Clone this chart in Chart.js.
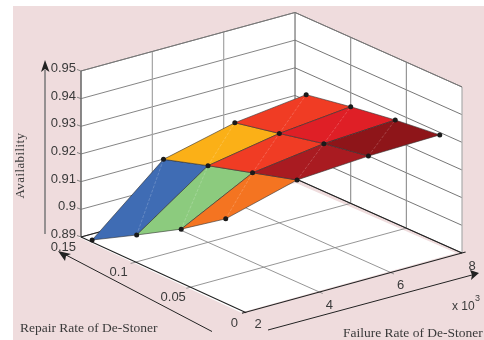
<!DOCTYPE html>
<html lang="en">
<head>
<meta charset="UTF-8">
<title>Availability surface</title>
<script src="https://cdn.jsdelivr.net/npm/chart.js"></script>
<style>
  html, body { margin: 0; padding: 0; background: #fff; }
  #panel { position: absolute; left: 13px; top: 6px; width: 471px; height: 334px; background: #efdcdd; }
  #chart { position: absolute; left: 0; top: 0; }
</style>
</head>
<body>
<div id="panel"></div>
<canvas id="chart" width="484" height="340"></canvas>
<script>
// values
const failureRates = [2, 4, 6, 8];
const repairRates = [0.14, 0.10, 0.06, 0.02];
const availabilityF2 = [0.8907, 0.8997, 0.9090, 0.9199];
const availabilityF4 = [0.9128, 0.9177, 0.9223, 0.9269];
const availabilityF6 = [0.9190, 0.9223, 0.9258, 0.9285];
const availabilityF8 = [0.9221, 0.9249, 0.9273, 0.9291];
const availability = [availabilityF2, availabilityF4, availabilityF6, availabilityF8];

const failureTicks = [2, 4, 6, 8];
const repairTicks = [0, 0.05, 0.1, 0.15];
const repairTickLabels = ['0', '0.05', '0.1', '0.15'];
const availabilityTicks = [0.89, 0.9, 0.91, 0.92, 0.93, 0.94, 0.95];
const availabilityTickLabels = ['0.89', '0.9', '0.91', '0.92', '0.93', '0.94', '0.95'];

// one row per failure step, one column per repair step
const patchColors = [
  ['#3f6cb4', '#8ccb7e', '#f47421'],
  ['#fbb017', '#f03c24', '#a91b21'],
  ['#f03c24', '#df1f26', '#8e1519']
];

// oblique view of the box
function project(f, r, z) {
  return {
    x: 248 + (f - 2) * 35.67 - r * 1113.3,
    y: 311.5 - (f - 2) * 9.75 - r * 496.7 - (z - 0.89) * 2767
  };
}

const fMin = 2, fMax = 8, rMin = 0, rMax = 0.15, zMin = 0.89, zMax = 0.95;
const datasets = [];

function line(points, color, width, dash) {
  datasets.push({ data: points, showLine: true, borderColor: color, borderWidth: width || 1,
    borderDash: dash || [], pointRadius: 0, fill: false });
}
function shape(points, color, edge, width) {
  datasets.push({ data: points.concat([points[0]]), showLine: true, backgroundColor: color,
    borderColor: edge || color, borderWidth: width || 0, pointRadius: 0, fill: 'shape' });
}
function shift(p, dx, dy) { return { x: p.x + dx, y: p.y + dy }; }

// walls and floor
shape([project(fMin, rMax, zMin), project(fMax, rMax, zMin), project(fMax, rMax, zMax), project(fMin, rMax, zMax)], '#fff');
shape([project(fMax, rMax, zMin), project(fMax, rMin, zMin), project(fMax, rMin, zMax), project(fMax, rMax, zMax)], '#fff');
// the white floor sits slightly off the black axis lines in the original
shape([
  shift(project(fMin, rMax, zMin), -3, 0),
  shift(project(fMin, rMin, zMin), -7, 1),
  shift(project(fMax, rMin, zMin), -6, 0),
  shift(project(fMax, rMax, zMin), 1, 4.5)
], '#fff');

// grid
availabilityTicks.forEach(z => {
  line([shift(project(fMin, rMax, z), -4, -1.5), project(fMin, rMax, z), project(fMax, rMax, z)], '#777', 0.9);
  line([project(fMax, rMax, z), project(fMax, rMin, z)], '#666', 0.9);
});
failureTicks.slice(1, 3).forEach(f => {
  line([project(f, rMax, zMin), project(f, rMax, zMax)], '#a4a4a4', 1.2);
  line([project(f, rMin - 0.003, zMin), project(f, rMax, zMin)], '#8a8a8a', 0.9);
});
repairTicks.slice(1, 3).forEach(r => {
  line([project(fMax, r, zMin), project(fMax, r, zMax)], '#8c8c8c', 1.1);
  line([project(fMin - 0.17, r, zMin), project(fMax, r, zMin)], '#8a8a8a', 0.9);
});
line([project(fMin, rMax, zMin), project(fMin, rMax, zMax)], '#6e6e6e', 1.6);
line([project(fMax, rMax, zMin), project(fMax, rMax, zMax)], '#707070', 1.2);
line([project(fMax, rMin, zMin), project(fMax, rMin, zMax)], '#b0b0b0', 1.3);
line([project(fMin, rMax, zMax), project(fMax, rMax, zMax), project(fMax, rMin, zMax)], '#777', 1);

// box bottom edges
line([project(fMin, rMax, zMin), project(fMax, rMax, zMin), project(fMax, rMin, zMin)], '#222', 1.1);
line([project(fMin, rMax, zMin), project(fMin - 0.08, rMin - 0.001, zMin)], '#222', 1.1);
line([project(fMin - 0.17, rMin, zMin), project(fMax + 0.1, rMin, zMin)], '#222', 1.1);

// surface
function vertex(i, j) { return project(failureRates[i], repairRates[j], availability[i][j]); }
for (let i = 0; i < 3; i++) {
  for (let j = 0; j < 3; j++) {
    shape([vertex(i, j), vertex(i, j + 1), vertex(i + 1, j + 1), vertex(i + 1, j)], patchColors[i][j], 'rgba(50,50,50,0.75)', 0.8);
  }
}
for (let i = 0; i < 3; i++) {
  for (let j = 0; j < 3; j++) {
    line([vertex(i, j + 1), vertex(i + 1, j)], 'rgba(255,255,255,0.32)', 0.6, [3, 1.5]);
  }
}
const surfacePoints = [];
availability.forEach((row, i) => row.forEach((z, j) => surfacePoints.push(vertex(i, j))));
datasets.push({ data: surfacePoints, pointRadius: 2.5, pointBackgroundColor: '#1a1a1a', pointBorderWidth: 0 });

// loose arrows next to the axes
const zArrow = [{ x: 45, y: 234 }, { x: 45, y: 70 }];
const repairArrow = [{ x: 212, y: 331.5 }, { x: 66, y: 255 }];
const failureArrow = [{ x: 268, y: 330 }, { x: 472, y: 275 }];
line(zArrow, '#777', 1.5);
line(repairArrow, '#222', 1);
line(failureArrow, '#222', 1);
shape([{ x: 45, y: 60 }, { x: 49.5, y: 72 }, { x: 45, y: 69 }, { x: 41, y: 72 }], '#222');
shape([{ x: 58, y: 251 }, { x: 71, y: 254 }, { x: 66, y: 256 }, { x: 65, y: 261 }], '#222');
shape([{ x: 479, y: 273 }, { x: 470, y: 270 }, { x: 472, y: 275 }, { x: 471, y: 280 }], '#222');

// text is put on through the same scales
const sans = '13px "Liberation Sans", Arial, sans-serif';
const serif = '13.5px "Liberation Serif", "Times New Roman", serif';
const textPlugin = {
  id: 'axisText',
  afterDraw(chart) {
    const { ctx, scales } = chart;
    const put = (text, x, y, align, font) => {
      ctx.font = font || sans;
      ctx.textAlign = align || 'center';
      ctx.fillText(text, scales.x.getPixelForValue(x), scales.y.getPixelForValue(y));
    };
    ctx.save();
    ctx.fillStyle = '#3a3a3a';
    ctx.textBaseline = 'middle';
    availabilityTicks.forEach((z, i) => {
      const p = project(fMin, rMax, z);
      put(availabilityTickLabels[i], p.x - 5, p.y - 2.5, 'right');
    });
    const repairNudge = [[-10, 11.5], [-6.5, 10.5], [-9, 10.5], [-5, 10]];
    repairTicks.forEach((r, i) => {
      const p = project(fMin, r, zMin);
      put(repairTickLabels[i], p.x + repairNudge[i][0], p.y + repairNudge[i][1], 'right');
    });
    failureTicks.forEach(f => {
      const p = project(f, rMin, zMin);
      put(String(f), p.x + 10, p.y + 13);
    });
    put('x 10', 452, 307, 'left', '12px "Liberation Sans", Arial, sans-serif');
    put('3', 475, 299, 'left', '9px "Liberation Sans", Arial, sans-serif');
    put('Repair Rate of De-Stoner', 20, 328, 'left', serif);
    put('Failure Rate of De-Stoner', 343, 333, 'left', serif);
    ctx.translate(scales.x.getPixelForValue(21), scales.y.getPixelForValue(165.5));
    ctx.rotate(-Math.PI / 2);
    ctx.font = '13px "Liberation Serif", "Times New Roman", serif';
    ctx.letterSpacing = '0.4px';
    ctx.textAlign = 'center';
    ctx.fillText('Availability', 0, 0);
    ctx.restore();
  }
};

// first dataset is painted last, so flip the paint order
new Chart(document.getElementById('chart'), {
  type: 'scatter',
  data: { datasets: datasets.reverse() },
  options: {
    responsive: false,
    animation: false,
    layout: { padding: 0, autoPadding: false },
    plugins: { legend: { display: false }, tooltip: { enabled: false } },
    scales: {
      x: { type: 'linear', min: 0, max: 484, display: false },
      y: { type: 'linear', min: 0, max: 340, reverse: true, display: false }
    }
  },
  plugins: [textPlugin]
});
</script>
</body>
</html>
